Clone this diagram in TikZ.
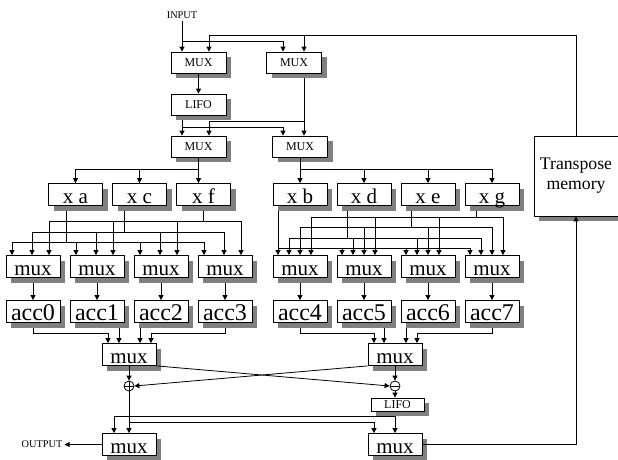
\documentclass[tikz,border=0pt]{standalone}
\usepackage{fontspec}
\setmainfont{Liberation Serif}
\usetikzlibrary{arrows.meta,calc}
\tikzset{
  wire/.style={line width=0.8pt},
  arr/.style={wire,-{Triangle[length=5pt,width=5pt]}},
  shadowbox/.style={draw,line width=0.8pt,fill=white,inner sep=0pt},
  shadowcopy/.style={draw=none,fill=gray},
  bigbox/.style={shadowbox,minimum width=54pt,minimum height=22pt,
    text height=20pt,text depth=2pt,font=\fontsize{21}{21}\selectfont},
  accbox/.style={bigbox,font=\fontsize{24}{24}\selectfont},
  smallbox/.style={shadowbox,minimum width=55pt,minimum height=21pt,
    text height=8pt,text depth=0pt,font=\fontsize{12}{12}\selectfont},
  lifobox/.style={smallbox,minimum width=53pt,minimum height=13pt},
  membox/.style={shadowbox,minimum width=84pt,minimum height=80pt,align=center,
    font=\fontsize{17.7}{20}\selectfont},
  iotext/.style={inner sep=2pt,font=\fontsize{10.3}{10.3}\selectfont},
  sumcirc/.style={draw,wire,circle,minimum size=10pt,inner sep=0pt},
}

\begin{document}
\begin{tikzpicture}[x=1pt,y=-1pt]
  \useasboundingbox (0,0) rectangle (618,459);
  % blocks, each with its shadow first
  \node[iotext] (inp) at (182,15.5) {INPUT};
  \foreach \nm/\x/\y in {muxA/198.5/62.5,muxB/294/62.5,muxC/198.5/146.5,muxD/300/146.5} {
    \node[smallbox,shadowcopy] at (\x+5,\y+5) {};
    \node[smallbox] (\nm) at (\x,\y) {MUX};
  }
  \node[smallbox,shadowcopy] at (203.5,109.5) {};
  \node[smallbox] (lifoA) at (198.5,104.5) {LIFO};
  \node[membox,shadowcopy] at (581,181) {};
  \node[membox] (mem) at (576,176) {Transpose\\memory};
  \foreach \n/\x in {a/75.5,c/139.5,f/203.5,b/300,d/364,e/428,g/492} {
    \node[bigbox,shadowcopy] at (\x+5,199.5) {};
    \node[bigbox] (x\n) at (\x,194.5) {x \n};
  }
  \foreach \k/\x in {0/33,1/97,2/161,3/225,4/300,5/364,6/428,7/492} {
    \node[bigbox,shadowcopy] at (\x+5,271.5) {};
    \node[bigbox] (mux\k) at (\x,266.5) {mux};
    \node[accbox,shadowcopy] at (\x+5,316.5) {};
    \node[accbox] (acc\k) at (\x,311.5) {acc\k};
  }
  \foreach \nm/\x/\y in {sumL/129/354.5,sumR/395/354.5,outL/129/444.5,outR/395/444.5} {
    \node[bigbox,shadowcopy] at (\x+5,\y+5) {};
    \node[bigbox] (\nm) at (\x,\y) {mux};
  }
  \node[sumcirc] (plus) at (129,386) {};
  \node[sumcirc] (minus) at (395,386) {};
  \draw[wire] (plus.north) -- (plus.south) (plus.west) -- (plus.east);
  \draw[wire] (minus.west) -- (minus.east);
  \node[lifobox,shadowcopy] at (402.5,409.5) {};
  \node[lifobox] (lifoB) at (397.5,404.5) {LIFO};
  \node[iotext] (outp) at (42,444.5) {OUTPUT};

  % input side
  \coordinate (fbtop) at (0,35);
  \coordinate (fbA) at ($(muxA.north)+(10.5,0)$);
  \coordinate (fbB) at ($(muxB.north)+(10,0)$);
  \draw[arr] (mem.north) |- (fbA |- fbtop) -- (fbA);
  \draw[arr] (fbB |- fbtop) -- (fbB);
  \draw[arr] (inp.south) -- (inp.south |- muxA.north);
  \draw[arr] (inp.south |- 0,41) -| ($(muxB.north)+(-11,0)$);
  \draw[arr] (muxA) -- (lifoA);
  \coordinate (lfo) at ($(lifoA.south)+(-16.5,5)$);
  \draw[arr] (lfo) -- (lfo |- muxC.north);
  \draw[arr] (lfo |- 0,127) -| ($(muxD.north)+(-17,0)$);
  \coordinate (mbo) at ($(muxB.south)+(10,5)$);
  \draw[arr] (mbo) -- (mbo |- muxD.north);
  \draw[arr] (mbo |- 0,121) -| ($(muxC.north)+(10.5,0)$);

  % multipliers
  \draw[arr] (muxC) -- (muxC.south |- xf.north);
  \draw[arr] (muxC.south |- 0,169) -| (xa.north);
  \draw[arr] (xc.north |- 0,169) -- (xc.north);
  \draw[arr] (muxD) -- (xb);
  \draw[arr] (xb.north |- 0,169) -| (xg.north);
  \foreach \n in {d,e} \draw[arr] (x\n.north |- 0,169) -- (x\n.north);

  % products to the muxes
  \foreach \n/\dx/\lv/\dxm in {a/-9.5/242/-21,c/-15.5/232/-1,f/0/221/16} {
    \coordinate (src) at ($(x\n.south)+(\dx,5)$);
    \draw[wire] (src) -- (src |- 0,\lv);
    \coordinate (l) at ($(mux0.north)+(\dxm,0)$);
    \coordinate (r) at ($(mux3.north)+(\dxm,0)$);
    \draw[wire] (l |- 0,\lv) -- (r |- 0,\lv);
    \foreach \k in {0,...,3} {
      \coordinate (p) at ($(mux\k.north)+(\dxm,0)$);
      \draw[arr] (p |- 0,\lv) -- (p);
    }
  }
  \foreach \n/\dx/\lv/\dxm in {b/-22/248/-22,d/-17/238/-11,e/-17/227/0,g/-16/217/11} {
    \coordinate (src) at ($(x\n.south)+(\dx,5)$);
    \draw[wire] (src) -- (src |- 0,\lv);
    \coordinate (l) at ($(mux4.north)+(\dxm,0)$);
    \coordinate (r) at ($(mux7.north)+(\dxm,0)$);
    \draw[wire] (l |- 0,\lv) -- (r |- 0,\lv);
    \foreach \k in {4,...,7} {
      \coordinate (p) at ($(mux\k.north)+(\dxm,0)$);
      \draw[arr] (p |- 0,\lv) -- (p);
    }
  }

  % accumulators
  \foreach \k in {0,...,7} \draw[arr] ($(mux\k.south)+(0,5)$) -- (acc\k);
  \foreach \k/\sm/\dx in {0/sumL/-21,3/sumL/22,4/sumR/-21,7/sumR/22} {
    \coordinate (t) at ($(\sm.north)+(\dx,0)$);
    \draw[arr] ($(acc\k.south)+(0,5)$) |- (t |- 0,333) -- (t);
  }
  \foreach \k/\sm/\dx in {1/sumL/-10,2/sumL/11,5/sumR/-11,6/sumR/11} {
    \coordinate (t) at ($(\sm.north)+(\dx,0)$);
    \draw[arr] ($(t |- acc\k.south)+(0,5)$) -- (t);
  }

  % butterfly and output
  \draw[arr] (sumL) -- (plus);
  \draw[arr] (sumR) -- (minus);
  \draw[arr] (sumL.south east) -- (minus.west);
  \draw[arr] (sumR.south west) -- (plus.east);
  \draw[arr] (minus) -- (minus |- lifoB.north);
  \draw[arr] (plus) -- (plus |- outL.north);
  \draw[arr] (plus.south |- 0,422) -| ($(outR.north)+(-21,0)$);
  \coordinate (lo) at ($(lifoB.south -| minus)+(0,5)$);
  \draw[arr] (lo) -- (lo |- outR.north);
  \draw[arr] (lo |- 0,416) -| ($(outL.north)+(-15,0)$);
  \draw[arr] (outR.east) -| (mem.south);
  \draw[arr] (outL.west) -- (outp.east);
\end{tikzpicture}
\end{document}
